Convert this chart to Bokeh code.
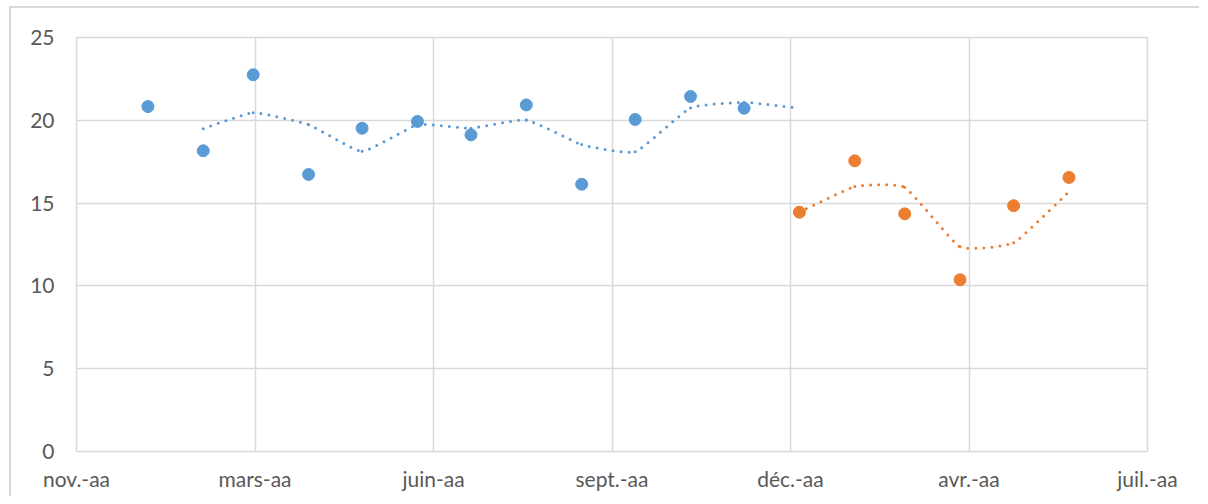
from datetime import date
from bokeh.plotting import figure
from bokeh.models import FixedTicker, Range1d
from bokeh.embed import file_html
from bokeh.resources import INLINE

# ---- data ----
axis_start = "2020-11-22"
tick_step_days = 100
tick_labels = ["nov.-aa", "mars-aa", "juin-aa", "sept.-aa", "déc.-aa", "avr.-aa", "juil.-aa"]
y_ticks = [0, 5, 10, 15, 20, 25]

blue_dates = ["2021-01-01", "2021-02-01", "2021-03-01", "2021-04-01", "2021-05-01", "2021-06-01",
              "2021-07-01", "2021-08-01", "2021-09-01", "2021-10-01", "2021-11-01", "2021-12-01"]
blue_values = [20.83, 18.16, 22.75, 16.73, 19.52, 19.93, 19.12, 20.93, 16.14, 20.05, 21.44, 20.73]

orange_dates = ["2022-01-01", "2022-02-01", "2022-03-01", "2022-04-01", "2022-05-01", "2022-06-01"]
orange_values = [14.45, 17.55, 14.35, 10.37, 14.84, 16.55]

BLUE = "#5B9BD5"
ORANGE = "#ED7D31"
GRID = "#D9D9D9"
TEXT = "#595959"
FONT = "Lato"

d0 = date.fromisoformat(axis_start)
def days(s):
    return (date.fromisoformat(s) - d0).days

bx = [days(s) for s in blue_dates]
ox = [days(s) for s in orange_dates]

# moving average (period 2) over one shared date column, blanks ignored
all_x = bx + ox
blue_col = blue_values + [None] * len(ox)
orange_col = [None] * len(bx) + orange_values

def moving_avg(col):
    xs, ys = [], []
    for i in range(1, len(col)):
        vals = [v for v in (col[i - 1], col[i]) if v is not None]
        if vals:
            xs.append(all_x[i])
            ys.append(sum(vals) / len(vals))
    return xs, ys

btx, bty = moving_avg(blue_col)
otx, oty = moving_avg(orange_col)

TENSION = 0.07
def bezier_segments(xs, ys):
    n = len(xs)
    seg = dict(x0=[], y0=[], x1=[], y1=[], cx0=[], cy0=[], cx1=[], cy1=[])
    for i in range(n - 1):
        xm, ym = (xs[i - 1], ys[i - 1]) if i > 0 else (xs[i], ys[i])
        xp, yp = (xs[i + 2], ys[i + 2]) if i + 2 < n else (xs[i + 1], ys[i + 1])
        seg["x0"].append(xs[i]); seg["y0"].append(ys[i])
        seg["x1"].append(xs[i + 1]); seg["y1"].append(ys[i + 1])
        seg["cx0"].append(xs[i] + (xs[i + 1] - xm) * TENSION)
        seg["cy0"].append(ys[i] + (ys[i + 1] - ym) * TENSION)
        seg["cx1"].append(xs[i + 1] - (xp - xs[i]) * TENSION)
        seg["cy1"].append(ys[i + 1] - (yp - ys[i]) * TENSION)
    return seg

n_ticks = len(tick_labels)
x_max = tick_step_days * (n_ticks - 1)

# figure host placed at (9, 6) with a 2px left/top border -> canvas starts at (11, 8)
p = figure(width=1190, height=490, output_backend="svg", toolbar_location=None,
           x_range=Range1d(0, x_max), y_range=Range1d(0, y_ticks[-1]),
           min_border_left=65, min_border_right=54, min_border_top=29, min_border_bottom=47,
           styles={"margin-left": "9px", "margin-top": "6px",
                   "border-left": "2px solid #D9D9D9", "border-top": "2px solid #D9D9D9"})

p.outline_line_color = GRID
p.outline_line_width = 1.5
p.background_fill_color = "white"
p.border_fill_color = "white"

ticks = [i * tick_step_days for i in range(n_ticks)]
p.xaxis.ticker = FixedTicker(ticks=ticks)
p.xaxis.major_label_overrides = {t: lab for t, lab in zip(ticks, tick_labels)}
p.yaxis.ticker = FixedTicker(ticks=y_ticks)

for ax in (p.xaxis, p.yaxis):
    ax.axis_line_color = None
    ax.major_tick_line_color = None
    ax.minor_tick_line_color = None
    ax.major_label_text_font = FONT
    ax.major_label_text_font_size = "21px"
    ax.major_label_text_color = TEXT
p.xaxis.major_label_standoff = 8
p.yaxis.major_label_standoff = 16

p.xgrid.ticker = FixedTicker(ticks=ticks)
for g in (p.xgrid, p.ygrid):
    g.grid_line_color = GRID
    g.grid_line_width = 1.5

bseg = bezier_segments(btx, bty)
oseg = bezier_segments(otx, oty)
p.bezier(source=bseg, x0="x0", y0="y0", x1="x1", y1="y1", cx0="cx0", cy0="cy0",
         cx1="cx1", cy1="cy1", line_color=BLUE, line_width=3, line_dash="0 8", line_cap="round")
p.bezier(source=oseg, x0="x0", y0="y0", x1="x1", y1="y1", cx0="cx0", cy0="cy0",
         cx1="cx1", cy1="cy1", line_color=ORANGE, line_width=3, line_dash="0 8", line_cap="round")

p.scatter(bx, blue_values, size=12, color=BLUE)
p.scatter(ox, orange_values, size=12, color=ORANGE)

open("out.html", "w").write(file_html(p, INLINE))
